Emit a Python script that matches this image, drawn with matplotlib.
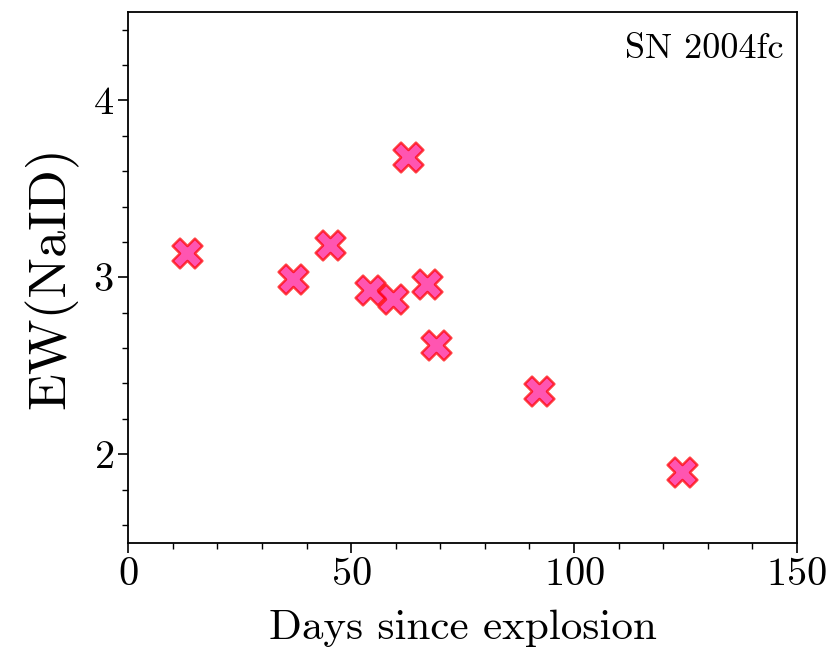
import matplotlib
matplotlib.use("Agg")
import matplotlib.pyplot as plt
from matplotlib.ticker import MultipleLocator

plt.rcParams['font.family'] = 'serif'
plt.rcParams['font.serif'] = ['cmr10']
plt.rcParams['mathtext.fontset'] = 'cm'
plt.rcParams['axes.formatter.use_mathtext'] = True

# SN 2004fc NaID equivalent widths
days = [13.2, 37.0, 45.3, 54.3, 59.4, 62.8, 67.0, 69.1, 92.2, 124.2]
ew = [3.14, 2.99, 3.18, 2.93, 2.88, 3.68, 2.96, 2.62, 2.36, 1.90]

fig = plt.figure(figsize=(8.38, 6.61), dpi=100)
ax = fig.add_axes([0.153, 0.179, 0.798, 0.803])

ax.scatter(days, ew, marker='X', s=460, facecolor='deeppink', edgecolor='red',
           linewidth=1.8, alpha=0.72, zorder=3)

ax.set_xlim(0, 150)
ax.set_ylim(1.5, 4.5)
ax.xaxis.set_major_locator(MultipleLocator(50))
ax.xaxis.set_minor_locator(MultipleLocator(10))
ax.yaxis.set_major_locator(MultipleLocator(1))
ax.yaxis.set_minor_locator(MultipleLocator(0.2))
ax.tick_params(which='major', length=7, width=1.2, labelsize=29)
ax.tick_params(which='minor', length=4, width=1.0)
for sp in ax.spines.values():
    sp.set_linewidth(1.3)

ax.set_xlabel('Days since explosion', fontsize=31, labelpad=12)
ax.set_ylabel('EW(NaID)', fontsize=39, labelpad=10)
ax.text(0.98, 0.96, 'SN 2004fc', transform=ax.transAxes, ha='right', va='top',
        fontsize=26)

fig.savefig('out.png', dpi=100)
